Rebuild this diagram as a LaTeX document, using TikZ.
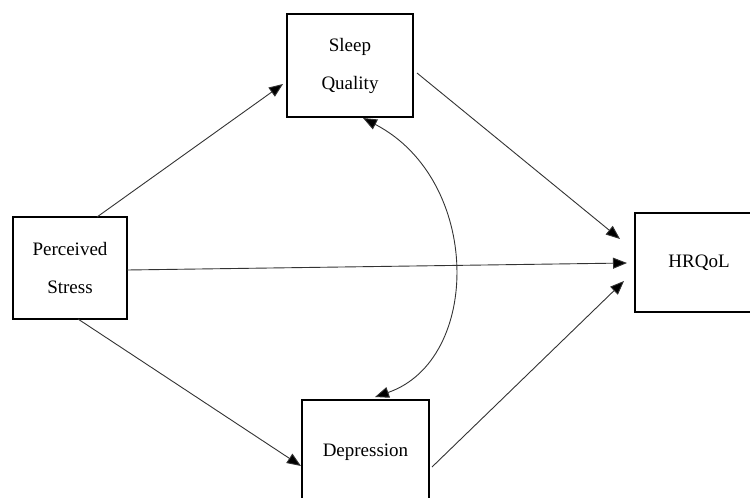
\documentclass[tikz,border=0pt]{standalone}
\usepackage{fontspec}
\setmainfont{Liberation Serif}
\usetikzlibrary{arrows.meta,calc}
\begin{document}
\begin{tikzpicture}[x=1pt,y=-1pt,
  box/.style={draw,line width=2pt,outer sep=0pt,inner sep=0pt,align=center,
    font=\fontsize{19}{38}\selectfont},
  arr/.style={line width=0.9pt,draw=black!80,-{Triangle[length=14pt,width=11pt,fill=black]}},
  dblarr/.style={line width=0.9pt,draw=black!80,{Triangle[length=14pt,width=11pt,fill=black]}-{Triangle[length=14pt,width=11pt,fill=black]}}]
\useasboundingbox (0,0) rectangle (750,498);
\clip (0,0) rectangle (750,498);
\node[box,minimum width=126pt,minimum height=103pt] (sleep) at (350,65.5) {\rule{0pt}{8pt}Sleep\\Quality};
\node[box,minimum width=114pt,minimum height=102pt] (stress) at (70,268) {Perceived\\Stress};
\node[box,minimum width=128pt,minimum height=99pt] (hrqol) at (699,262.5) {HRQoL};
\node[box,minimum width=127pt,minimum height=104pt] (dep) at (365.5,452) {Depression};
\draw[arr] ($(stress.north)+(27,0)$) -- ($(sleep.west)+(-4,18.5)$);
\draw[arr] ($(sleep.east)+(4,7.5)$) -- ($(hrqol.west)+(-15,-23.5)$);
\draw[arr] ($(stress.east)+(0,2)$) -- ($(hrqol.west)+(-8,0.5)$);
\draw[arr] ($(stress.south)+(8,0)$) -- ($(dep.west)+(-1,14)$);
\draw[arr] ($(dep.east)+(3,15)$) -- ($(hrqol.west)+(-11,18.5)$);
\draw[dblarr] ($(dep.north)+(9.5,-3)$) .. controls (482,360) and (482,180) .. ($(sleep.south)+(13,1)$);
\end{tikzpicture}
\end{document}
